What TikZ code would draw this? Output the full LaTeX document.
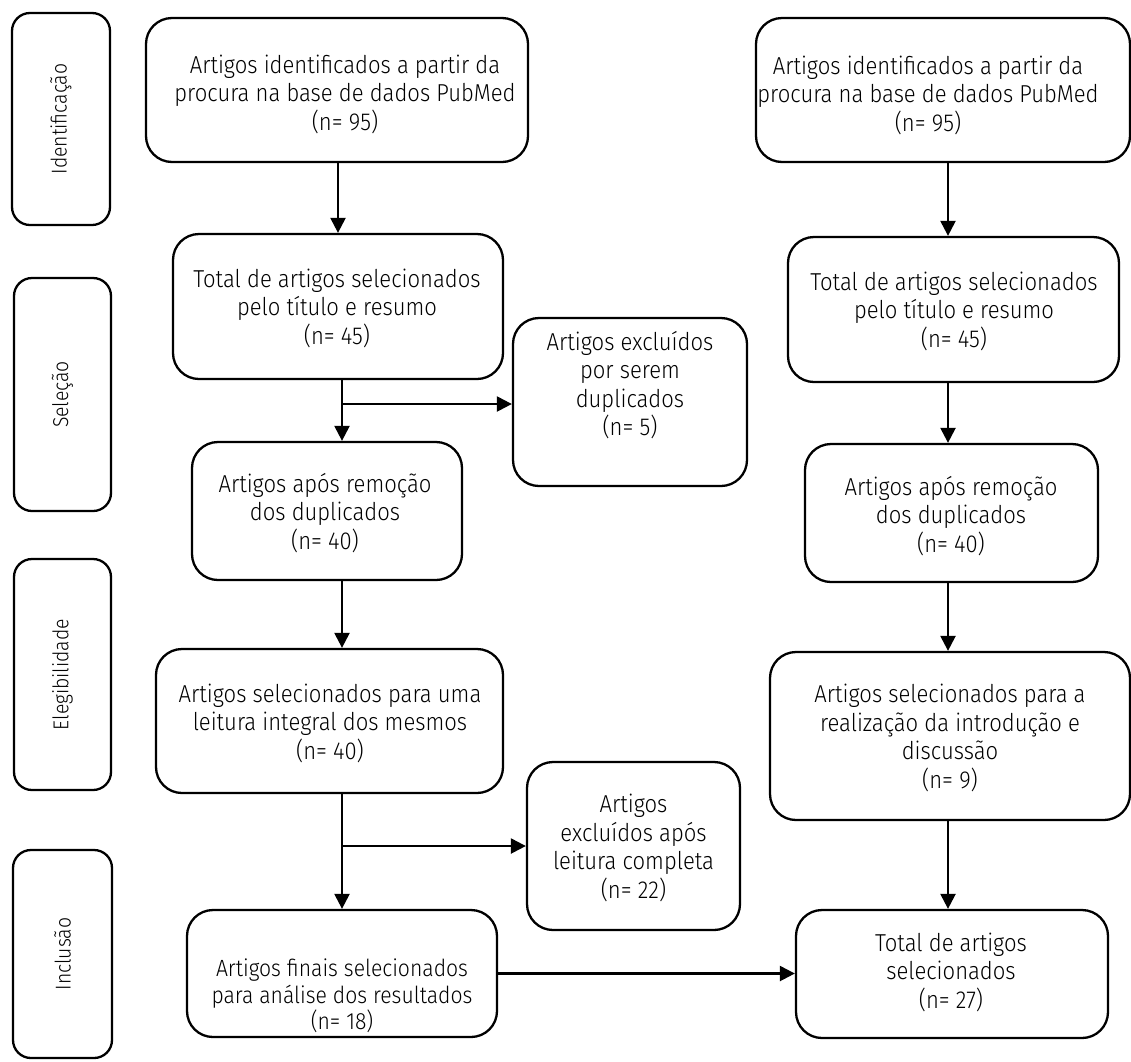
\documentclass[tikz,border=0pt]{standalone}
\usepackage{fontspec}
\IfFontExistsTF{Fira Sans Light}{\setmainfont{Fira Sans Light}[FakeStretch=0.9]}{\setmainfont{Fira Sans}[FakeStretch=0.9]}
\usetikzlibrary{arrows.meta}
\tikzset{
  box/.style={draw, line width=2.3pt, rounded corners=26pt, inner sep=0pt},
  lab/.style={draw, line width=2.3pt, rounded corners=18pt, inner sep=0pt},
  txt/.style={align=center, font=\fontsize{24.5}{28.5}\selectfont, inner sep=0pt},
  txts/.style={align=center, font=\fontsize{23.5}{26.5}\selectfont, inner sep=0pt},
  labtxt/.style={align=center, font=\fontsize{21.5}{26}\selectfont, inner sep=0pt},
  arr/.style={line width=2.3pt, -{Triangle[length=15pt,width=15pt]}},
}
\begin{document}
\begin{tikzpicture}[x=1pt,y=-1pt]
\useasboundingbox (0,0) rectangle (1131,1061);
% stage labels
\node[lab, minimum width=98pt, minimum height=212pt] (L1) at (61,119) {};
\node[lab, minimum width=97pt, minimum height=233pt] (L2) at (62.5,394.5) {};
\node[lab, minimum width=97pt, minimum height=231pt] (L3) at (62.5,674.5) {};
\node[lab, minimum width=99pt, minimum height=208pt] (L4) at (62.5,954) {};
\node[labtxt, rotate=90] (tL1) at (L1) {Identificação};
\node[labtxt, rotate=90] (tL2) at (L2) {Seleção};
\node[labtxt, rotate=90] (tL3) at (L3) {Elegibilidade};
\node[labtxt, rotate=90] (tL4) at (L4) {Inclusão};
% left column
\node[box, minimum width=382pt, minimum height=144pt] (A1) at (337,90) {};
\node[box, minimum width=330pt, minimum height=145pt] (A2) at (338,306.5) {};
\node[box, minimum width=234pt, minimum height=168pt] (E1) at (630,402) {};
\node[box, minimum width=270pt, minimum height=138pt] (A3) at (327,511) {};
\node[box, minimum width=347pt, minimum height=144pt] (A4) at (329.5,721) {};
\node[box, minimum width=213pt, minimum height=168pt] (E2) at (633.5,846) {};
\node[box, minimum width=310pt, minimum height=127pt] (A5) at (342,973.5) {};
% right column
\node[box, minimum width=374pt, minimum height=144pt] (B1) at (943,90) {};
\node[box, minimum width=331pt, minimum height=145pt] (B2) at (953.5,309.5) {};
\node[box, minimum width=293pt, minimum height=138pt] (B3) at (951.5,513) {};
\node[box, minimum width=360pt, minimum height=168pt] (B4) at (950,736) {};
\node[box, minimum width=312pt, minimum height=128pt] (B5) at (952,974) {};
% texts
\node[txt] (tA1) at (345,94) {Artigos identificados a partir da\\procura na base de dados PubMed\\(n= 95)};
\node[txt] (tA2) at (337,308) {Total de artigos selecionados\\pelo título e resumo\\(n= 45)};
\node[txt] (tE1) at (630,385) {Artigos excluídos\\por serem\\duplicados\\(n= 5)};
\node[txt] (tA3) at (325,513) {Artigos após remoção\\dos duplicados\\(n= 40)};
\node[txt] (tA4) at (330,723) {Artigos selecionados para uma\\leitura integral dos mesmos\\(n= 40)};
\node[txt] (tE2) at (633.5,848) {Artigos\\excluídos após\\leitura completa\\(n= 22)};
\node[txts] (tA5) at (342,996) {Artigos finais selecionados\\para análise dos resultados\\(n= 18)};
\node[txt] (tB1) at (928,95) {Artigos identificados a partir da\\procura na base de dados PubMed\\(n= 95)};
\node[txt] (tB2) at (954,311) {Total de artigos selecionados\\pelo título e resumo\\(n= 45)};
\node[txt] (tB3) at (951,516) {Artigos após remoção\\dos duplicados\\(n= 40)};
\node[txt] (tB4) at (950,738) {Artigos selecionados para a\\realização da introdução e\\discussão\\(n= 9)};
\node[txt] (tB5) at (951,972) {Total de artigos\\selecionados\\(n= 27)};
% connectors
\coordinate (c1) at (338,0);
\coordinate (cL) at (342,0);
\coordinate (cR) at (948,0);
\coordinate (j1) at (342,404);
\coordinate (j2) at (342,846);
\draw[arr] (A1.south -| c1) -- (A2.north -| c1);
\draw[arr] (A2.south -| cL) -- (A3.north -| cL);
\draw[arr] (j1) -- (j1 -| E1.west);
\draw[arr] (A3.south -| cL) -- (A4.north -| cL);
\draw[arr] (A4.south -| cL) -- (A5.north -| cL);
\draw[arr] (j2) -- (j2 -| E2.west);
\draw[arr] (A5.east) -- (A5.east -| B5.west);
\draw[arr] (B1.south -| cR) -- (B2.north -| cR);
\draw[arr] (B2.south -| cR) -- (B3.north -| cR);
\draw[arr] (B3.south -| cR) -- (B4.north -| cR);
\draw[arr] (B4.south -| cR) -- (B5.north -| cR);
\end{tikzpicture}
\end{document}
